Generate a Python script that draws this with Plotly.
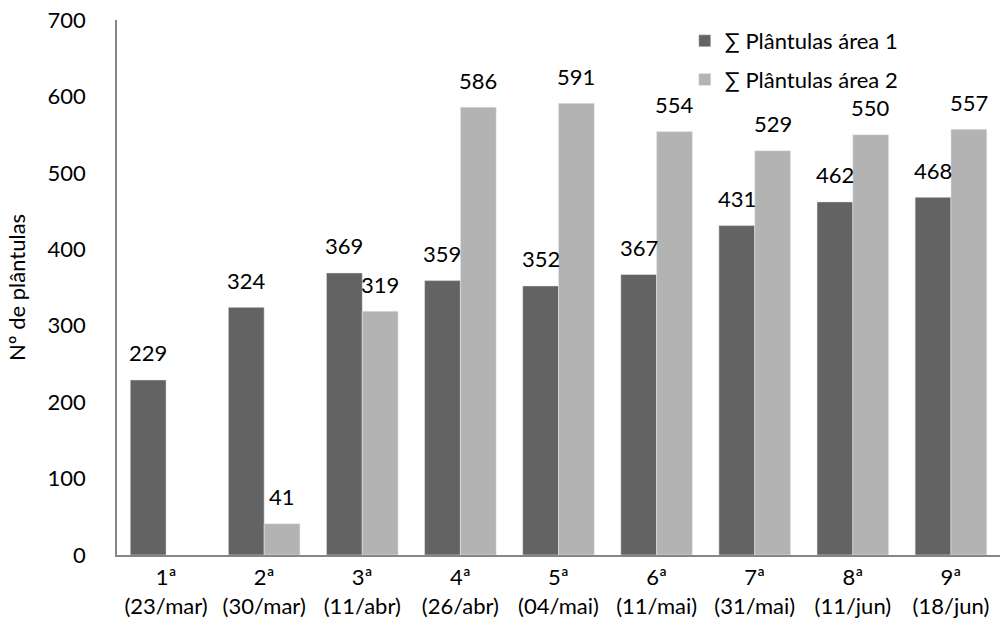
import plotly.graph_objects as go

categories = ["1ª<br>(23/mar)", "2ª<br>(30/mar)", "3ª<br>(11/abr)", "4ª<br>(26/abr)",
              "5ª<br>(04/mai)", "6ª<br>(11/mai)", "7ª<br>(31/mai)", "8ª<br>(11/jun)", "9ª<br>(18/jun)"]
area1 = [229, 324, 369, 359, 352, 367, 431, 462, 468]
area2 = [None, 41, 319, 586, 591, 554, 529, 550, 557]
series_names = ["∑ Plântulas área 1", "∑ Plântulas área 2"]
y_ticks = [0, 100, 200, 300, 400, 500, 600, 700]

FONT = "Lato, 'Open Sans', sans-serif"
FS = 22
BARGAP = 0.27
half = (1 - BARGAP) / 4  # offset of each bar centre from category centre

fig = go.Figure()
fig.add_trace(go.Bar(x=categories, y=area1, name=series_names[0], marker_color="#636363",
                     legendgroup="a"))
fig.add_trace(go.Bar(x=categories, y=area2, name=series_names[1], marker_color="#b3b3b3",
                     legendgroup="b"))

for i, v in enumerate(area1):
    if v is not None:
        fig.add_annotation(x=i - half, y=v, xref="x", yref="y", text=str(v), showarrow=False,
                           yanchor="middle", yshift=27, font=dict(size=FS, color="black"))
for i, v in enumerate(area2):
    if v is not None:
        fig.add_annotation(x=i + half, y=v, xref="x", yref="y", text=str(v), showarrow=False,
                           yanchor="middle", yshift=27, font=dict(size=FS, color="black"))

fig.update_layout(
    width=1003, height=639,
    margin=dict(l=117, r=3, t=20, b=84),
    paper_bgcolor="white", plot_bgcolor="white",
    barmode="group", bargap=BARGAP, bargroupgap=0,
    font=dict(family=FONT, size=FS, color="black"),
    showlegend=True,
    legend=dict(x=0.643, y=1.0, xanchor="left", yanchor="top", bgcolor="rgba(0,0,0,0)",
                font=dict(size=FS), tracegroupgap=7, itemwidth=30),
)
fig.update_xaxes(showline=True, linecolor="#868686", linewidth=1.5, showgrid=False,
                 ticks="", tickfont=dict(size=FS), ticklabelstandoff=2, automargin=False)
fig.update_yaxes(range=[0, 700], tickvals=y_ticks, showline=True, linecolor="#868686",
                 linewidth=1.5, showgrid=False, ticks="", tickfont=dict(size=FS),
                 ticklabelstandoff=25, automargin=False,
                 title=dict(text="Nº de plântulas", font=dict(size=FS), standoff=16))

fig.write_html("out.html", config={"displayModeBar": False},
               post_script="document.body.style.margin='0';document.body.style.overflow='hidden';")
